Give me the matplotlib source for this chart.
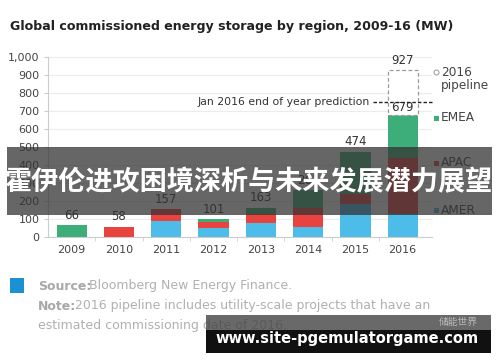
import matplotlib.pyplot as plt
from matplotlib.patches import Rectangle, Ellipse

YEARS = ["2009", "2010", "2011", "2012", "2013", "2014", "2015", "2016"]
AMER = [0, 0, 90, 52, 80, 55, 185, 128]
APAC = [0, 58, 67, 30, 48, 106, 54, 309]
EMEA = [66, 0, 0, 19, 35, 100, 235, 242]
TOTALS = [66, 58, 157, 101, 163, 261, 474, 679]
PIPELINE_2016 = 248
PIPELINE_TOTAL = 927
PREDICTION = 752
Y_TICKS = [0, 100, 200, 300, 400, 500, 600, 700, 800, 900, 1000]

C_AMER = "#4DBCE9"
C_APAC = "#E8433F"
C_EMEA = "#3DAE7A"

plt.rcParams.update({"font.family": ["DejaVu Sans"], "font.size": 8})

fig = plt.figure(figsize=(5.0, 3.62), dpi=100)
ax = fig.add_axes([0.096, 0.3453, 0.768, 0.4972])

x = list(range(len(YEARS)))
w = 0.64
ax.bar(x, AMER, w, color=C_AMER, zorder=2)
ax.bar(x, APAC, w, bottom=AMER, color=C_APAC, zorder=2)
bottom2 = [a + b for a, b in zip(AMER, APAC)]
ax.bar(x, EMEA, w, bottom=bottom2, color=C_EMEA, zorder=2)
# 2016 pipeline (dashed outline)
ax.bar([7], [PIPELINE_2016], w, bottom=[TOTALS[7]], facecolor="white",
       edgecolor="#9a9a9a", linestyle=(0, (3, 2)), linewidth=0.9, zorder=2)

for i, t in enumerate(TOTALS[:-1]):
    ax.text(i, t + 18, str(t), ha="center", va="bottom", fontsize=8.5, color="#333333")
ax.text(7, TOTALS[7] + 38, str(TOTALS[7]), ha="center", va="center", fontsize=8.5, color="#333333")
ax.text(7, PIPELINE_TOTAL + 18, str(PIPELINE_TOTAL), ha="center", va="bottom",
        fontsize=8.5, color="#333333")

# prediction line
ax.plot([6.38, 7.62], [PREDICTION, PREDICTION], color="#222222", linestyle=(0, (2.5, 1.5)),
        linewidth=1.0, zorder=3, clip_on=False)
ax.text(6.3, PREDICTION, "Jan 2016 end of year prediction", ha="right", va="center",
        fontsize=7.8, color="#333333")

ax.set_xlim(-0.5, 7.62)
ax.set_ylim(0, 1000)
ax.set_yticks(Y_TICKS)
ax.set_yticklabels([f"{v:,}" for v in Y_TICKS])
ax.set_xticks(x)
ax.set_xticklabels(YEARS)
ax.tick_params(axis="y", length=3, color="#cccccc", labelsize=8, labelcolor="#444444", pad=3)
ax.tick_params(axis="x", length=0, labelsize=8, labelcolor="#444444", pad=6)
ax.set_xticks([i + 0.5 for i in range(7)], minor=True)
ax.tick_params(axis="x", which="minor", length=3, color="#d0d0d0")
ax.grid(axis="y", color="#ececec", linewidth=0.8, zorder=0)
for s in ("top", "right"):
    ax.spines[s].set_visible(False)
for s in ("left", "bottom"):
    ax.spines[s].set_color("#cccccc")
    ax.spines[s].set_linewidth(0.8)

# title
fig.text(0.02, 0.928, "Global commissioned energy storage by region, 2009-16 (MW)",
         fontsize=9.1, fontweight="bold", color="#222222", va="center")


def fy(py):
    return 1 - py / 362


# legend
fig.patches.append(Ellipse((436.5 / 500, fy(72.5)), 5 / 500, 5 / 362, transform=fig.transFigure,
                           facecolor="white", edgecolor="#999999", linewidth=0.7))
fig.text(441 / 500, fy(73), "2016", fontsize=8.7, color="#444444", va="center")
fig.text(441 / 500, fy(86), "pipeline", fontsize=8.7, color="#444444", va="center")
for py, lab, col in [(118, "EMEA", C_EMEA), (163, "APAC", C_APAC), (210, "AMER", C_AMER)]:
    fig.patches.append(Rectangle((434 / 500, fy(py + 2.5)), 5 / 500, 5 / 362,
                                 transform=fig.transFigure, facecolor=col, edgecolor="none"))
    fig.text(441 / 500, fy(py), lab, fontsize=8.7, color="#444444", va="center")

# notes
fig.patches.append(Rectangle((10 / 500, fy(293)), 14 / 500, 15 / 362, transform=fig.transFigure,
                             facecolor="#1B90D2", edgecolor="none"))
fig.text(38 / 500, fy(286), "Source:", fontsize=9, fontweight="bold", color="#a8a8a8", va="center")
fig.text(89 / 500, fy(286), "Bloomberg New Energy Finance.", fontsize=9, color="#b0b0b0", va="center")
fig.text(38 / 500, fy(306), "Note:", fontsize=9, fontweight="bold", color="#a8a8a8", va="center")
fig.text(75 / 500, fy(306), "2016 pipeline includes utility-scale projects that have an",
         fontsize=9, color="#b0b0b0", va="center")
fig.text(38 / 500, fy(325), "estimated commissioning date of 2016.", fontsize=9,
         color="#b0b0b0", va="center")

# overlay banner
fig.patches.append(Rectangle((7 / 500, fy(215)), 485 / 500, 68 / 362, transform=fig.transFigure,
                             facecolor="#333333", alpha=0.75, edgecolor="none", zorder=10))
fig.text(249.5 / 500, fy(182), "霍伊伦进攻困境深析与未来发展潜力展望", ha="center", va="center",
         fontsize=19.5, fontweight="bold", color="white", zorder=11,
         family=["Noto Sans CJK SC", "DejaVu Sans"])

# bottom watermark
fig.patches.append(Rectangle((206 / 500, fy(330)), 285 / 500, 15 / 362, transform=fig.transFigure,
                             facecolor="#444444", alpha=0.8, edgecolor="none", zorder=10))
fig.patches.append(Rectangle((206 / 500, fy(353)), 285 / 500, 23 / 362, transform=fig.transFigure,
                             facecolor="#111111", edgecolor="none", zorder=10))
fig.text(478 / 500, fy(322), "储能世界", ha="right", va="center", fontsize=7, color="#bbbbbb",
         zorder=11, family=["Noto Sans CJK SC", "DejaVu Sans"])
fig.text(347 / 500, fy(339), "www.site-pgemulatorgame.com", ha="center", va="center",
         fontsize=10.5, fontweight="bold", color="white", zorder=11)

fig.savefig("out.png", dpi=100)
